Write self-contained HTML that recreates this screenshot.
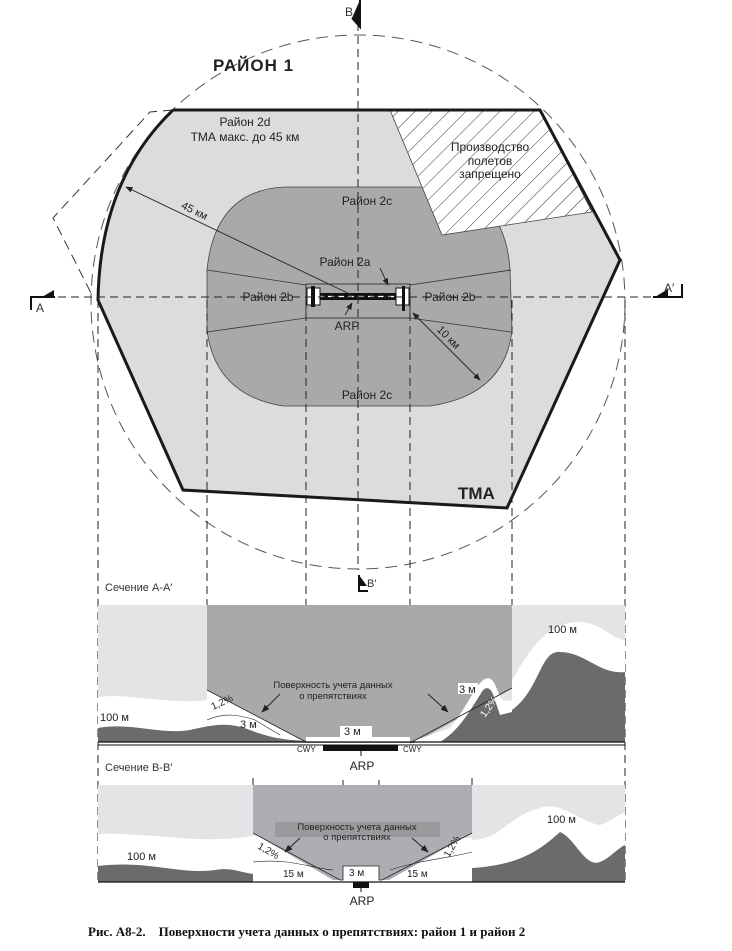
<!DOCTYPE html>
<html><head><meta charset="utf-8"><style>
body{margin:0;background:#fff;}
svg{display:block;font-family:"Liberation Sans","Noto Sans CJK SC",sans-serif;}
</style></head><body>
<svg width="732" height="951" viewBox="0 0 732 951" xmlns="http://www.w3.org/2000/svg">
<defs>
<pattern id="h" patternUnits="userSpaceOnUse" width="12" height="12" patternTransform="rotate(45)">
<rect width="12" height="12" fill="#fff"/><line x1="0" y1="0" x2="0" y2="12" stroke="#333" stroke-width="1"/>
</pattern>
<clipPath id="tma"><path d="M173,110 L540,110 L620,260 L507,508 L183,490 L98,300 Q100,180 173,110 Z"/></clipPath>
<marker id="ar" viewBox="0 0 10 10" refX="9" refY="5" markerWidth="8" markerHeight="8" orient="auto-start-reverse"><path d="M0,1 L10,5 L0,9 Z" fill="#222"/></marker>
</defs>

<circle cx="358" cy="302" r="267" fill="none" stroke="#555" stroke-width="1" stroke-dasharray="12,7"/>
<path d="M173,110 L150,112 L53,218 L93,297" fill="none" stroke="#333" stroke-dasharray="10,6"/>

<path d="M173,110 L540,110 L620,260 L507,508 L183,490 L98,300 Q100,180 173,110 Z" fill="#dcdcdc"/>
<g clip-path="url(#tma)">
<path d="M285,187 L430,187 Q505,190 510,270 L512,330 Q505,395 430,406 L283,406 Q215,395 207,330 L207,270 Q215,190 285,187 Z" fill="#a9a9a9" stroke="#444" stroke-width="0.8"/>
<polygon points="390,110 540,110 592,212 442,235" fill="url(#h)" stroke="#444" stroke-width="0.8"/>
</g>
<path d="M173,110 L540,110 L620,260 L507,508 L183,490 L98,300 Q100,180 173,110" fill="none" stroke="#1a1a1a" stroke-width="3"/>
<line x1="183" y1="490" x2="507" y2="508" stroke="#1a1a1a" stroke-width="2"/>

<g stroke="#333" stroke-width="0.8">
<line x1="306" y1="285" x2="207" y2="270"/><line x1="306" y1="318" x2="207" y2="332"/>
<line x1="410" y1="285" x2="511" y2="270"/><line x1="410" y1="318" x2="511" y2="332"/>
</g>
<rect x="306" y="284" width="104" height="34" fill="none" stroke="#222" stroke-width="0.8"/>
<rect x="312" y="293" width="90" height="7" fill="#111"/>
<line x1="318" y1="296.5" x2="396" y2="296.5" stroke="#fff" stroke-width="1.2" stroke-dasharray="6,4"/>
<rect x="307" y="288" width="13" height="17" fill="#fff" stroke="#111"/>
<rect x="311" y="286" width="4" height="21" fill="#111"/>
<rect x="396" y="288" width="13" height="17" fill="#fff" stroke="#111"/>
<rect x="402" y="286" width="3" height="25" fill="#111"/>

<line x1="358" y1="298" x2="126" y2="187" stroke="#222" stroke-width="0.9" marker-end="url(#ar)"/>
<line x1="413" y1="313" x2="480" y2="380" stroke="#222" stroke-width="0.9" marker-start="url(#ar)" marker-end="url(#ar)"/>
<line x1="380" y1="268" x2="388" y2="285" stroke="#222" stroke-width="0.9" marker-end="url(#ar)"/>
<line x1="345" y1="315" x2="352" y2="303" stroke="#222" stroke-width="0.9" marker-end="url(#ar)"/>

<g stroke="#222" stroke-width="1" stroke-dasharray="8,5" fill="none">
<line x1="98" y1="300" x2="98" y2="880"/>
<line x1="207" y1="300" x2="207" y2="742"/>
<line x1="306" y1="300" x2="306" y2="742"/>
<line x1="358" y1="10" x2="358" y2="570"/>
<line x1="410" y1="300" x2="410" y2="742"/>
<line x1="512" y1="300" x2="512" y2="742"/>
<line x1="625" y1="300" x2="625" y2="880"/>
<line x1="45" y1="297" x2="662" y2="297"/>
<line x1="253" y1="778" x2="253" y2="880"/><line x1="472" y1="778" x2="472" y2="880"/>
<line x1="343" y1="780" x2="343" y2="866"/><line x1="379" y1="780" x2="379" y2="866"/>
</g>

<path d="M360,0 L360,27 L352,18" fill="#111" stroke="#111" stroke-width="2"/>
<text x="345" y="16" font-size="12" fill="#333">B</text>
<path d="M31,310 L31,297 L55,297 L44,297" fill="none" stroke="#111" stroke-width="2"/><polygon points="42,297 54,297 54,290" fill="#111"/>
<text x="36" y="312" font-size="12" fill="#333">A</text>
<path d="M682,284 L682,297 L653,297" fill="none" stroke="#111" stroke-width="2"/><polygon points="655,297 668,297 668,289" fill="#111"/>
<text x="664" y="292" font-size="12" fill="#333">A′</text>
<path d="M359,575 L359,591 L368,591" fill="none" stroke="#111" stroke-width="2"/><polygon points="359,575 359,586 367,586" fill="#111"/>
<text x="367" y="587" font-size="11" fill="#333">B′</text>

<text x="213" y="71" font-size="17" font-weight="bold" fill="#222" letter-spacing="1">РАЙОН 1</text>
<g font-size="12" fill="#222" text-anchor="middle">
<text x="245" y="126">Район 2d</text>
<text x="245" y="141">ТМА макс. до 45 км</text>
<text x="490" y="151">Производство</text>
<text x="490" y="165">полетов</text>
<text x="490" y="178">запрещено</text>
<text x="367" y="205">Район 2с</text>
<text x="345" y="266">Район 2а</text>
<text x="268" y="301">Район 2b</text>
<text x="450" y="301">Район 2b</text>
<text x="347" y="330">ARP</text>
<text x="367" y="399">Район 2с</text>
<text x="193" y="214" transform="rotate(26 193 214)" font-size="11">45 км</text>
<text x="446" y="340" transform="rotate(45 446 340)" font-size="11">10 км</text>
</g>
<text x="458" y="499" font-size="17" font-weight="bold" fill="#222">ТМА</text>

<!-- Section A -->
<text x="105" y="591" font-size="11" fill="#333">Сечение А-А′</text>
<rect x="98" y="605" width="527" height="137" fill="#e4e4e6"/>
<path d="M207,605 L512,605 L512,688 L415,743 L306,743 L207,690 Z" fill="#a9a9a9"/>
<path d="M98,697 C130,693 170,705 207,700 L207,690 L306,742 L98,742 Z" fill="#fff"/>
<path d="M98,728 C130,722 160,735 190,730 C215,724 230,722 250,730 C270,738 285,740 306,741 L306,742 L98,742 Z" fill="#6b6b6b"/>
<path d="M207,690 L306,742" stroke="#222" stroke-width="0.8"/>
<path d="M207,720 C225,712 240,715 255,720 L280,735" fill="none" stroke="#222" stroke-width="0.6"/>
<rect x="306" y="737" width="104" height="5" fill="#fff"/>
<path d="M410,742 L450,728 C470,705 480,670 492,680 C500,690 498,705 512,700 L512,742 Z" fill="#fff"/>
<path d="M512,680 C530,650 545,625 575,622 C600,620 612,640 625,640 L625,742 L512,742 Z" fill="#fff"/>
<path d="M512,710 C540,690 540,650 560,652 C585,652 600,675 625,672 L625,742 L512,742 Z" fill="#6b6b6b"/>
<path d="M440,742 C460,730 470,710 480,695 C486,683 492,688 495,700 L500,715 L512,712 L512,742 Z" fill="#6b6b6b"/>
<path d="M410,743 L512,688" stroke="#222" stroke-width="0.8"/>
<line x1="98" y1="742" x2="625" y2="742" stroke="#111" stroke-width="1.2"/>
<line x1="98" y1="745" x2="625" y2="745" stroke="#111" stroke-width="1"/>
<rect x="323" y="745" width="75" height="6" fill="#111"/>
<line x1="361" y1="751" x2="361" y2="756" stroke="#111"/>
<text x="362" y="770" font-size="12" text-anchor="middle" fill="#222">ARP</text>
<text x="297" y="752" font-size="8" fill="#222">CWY</text>
<text x="403" y="752" font-size="8" fill="#222">CWY</text>
<text x="100" y="721" font-size="11" fill="#222">100 м</text>
<text x="548" y="633" font-size="11" fill="#222">100 м</text>
<text x="240" y="728" font-size="11" fill="#222">3 м</text>
<rect x="340" y="726" width="32" height="11" fill="#fff"/><text x="344" y="735" font-size="11" fill="#222">3 м</text>
<rect x="458" y="683" width="20" height="11" fill="#fff"/><text x="459" y="693" font-size="11" fill="#222">3 м</text>
<text x="213" y="710" font-size="10" fill="#222" transform="rotate(-25 213 710)">1,2%</text>
<text x="485" y="718" font-size="10" fill="#fff" transform="rotate(-55 485 718)">1,2%</text>
<text x="333" y="688" font-size="9.5" text-anchor="middle" fill="#222">Поверхность учета данных</text>
<text x="333" y="699" font-size="9.5" text-anchor="middle" fill="#222">о препятствиях</text>
<line x1="280" y1="694" x2="262" y2="712" stroke="#222" marker-end="url(#ar)"/>
<line x1="428" y1="694" x2="448" y2="712" stroke="#222" marker-end="url(#ar)"/>

<!-- Section B -->
<text x="105" y="771" font-size="11" fill="#333">Сечение В-В′</text>
<rect x="98" y="785" width="527" height="97" fill="#e4e4e6"/>
<path d="M98,834 C150,832 200,845 253,836 L253,882 L98,882 Z" fill="#fff"/>
<path d="M472,840 C500,840 510,815 540,808 C560,800 580,822 600,825 C610,822 618,815 625,812 L625,882 L472,882 Z" fill="#fff"/>
<path d="M98,866 C150,860 180,875 215,870 C230,867 240,872 253,874 L253,882 L98,882 Z" fill="#6b6b6b"/>
<path d="M472,868 C520,865 540,850 560,832 C575,838 585,868 600,862 C610,858 618,848 625,845 L625,882 L472,882 Z" fill="#6b6b6b"/>
<path d="M253,836 L253,882 L472,882 L472,838 Z" fill="#fff"/>
<path d="M253,785 L472,785 L472,833 L389,880 L379,880 L379,870 L343,870 L343,880 L333,880 L253,833 Z" fill="#acaeb4"/>
<rect x="343" y="866" width="36" height="14" fill="#fff"/>
<path d="M253,833 L340,880 L343,880 L343,866 L379,866 L379,880 L382,880 L472,833" fill="none" stroke="#222" stroke-width="0.8"/>
<path d="M253,862 C290,858 310,868 333,870" fill="none" stroke="#222" stroke-width="0.6"/>
<path d="M390,870 C420,860 450,858 472,852" fill="none" stroke="#222" stroke-width="0.6"/>
<rect x="275" y="822" width="165" height="15" fill="#9a9a9c"/>
<text x="357" y="830" font-size="9.5" text-anchor="middle" fill="#222">Поверхность учета данных</text>
<text x="357" y="840" font-size="9.5" text-anchor="middle" fill="#222">о препятствиях</text>
<line x1="300" y1="838" x2="285" y2="852" stroke="#222" marker-end="url(#ar)"/>
<line x1="412" y1="838" x2="428" y2="852" stroke="#222" marker-end="url(#ar)"/>
<line x1="98" y1="882" x2="625" y2="882" stroke="#111" stroke-width="1.2"/>
<rect x="353" y="882" width="16" height="6" fill="#111"/>
<line x1="361" y1="888" x2="361" y2="892" stroke="#111"/>
<text x="362" y="905" font-size="12" text-anchor="middle" fill="#222">ARP</text>
<text x="127" y="860" font-size="11" fill="#222">100 м</text>
<text x="547" y="823" font-size="11" fill="#222">100 м</text>
<text x="283" y="877" font-size="10" fill="#222">15 м</text>
<text x="407" y="877" font-size="10" fill="#222">15 м</text>
<text x="349" y="876" font-size="10" fill="#222">3 м</text>
<text x="257" y="848" font-size="10" fill="#222" transform="rotate(30 257 848)">1,2%</text>
<text x="449" y="858" font-size="10" fill="#222" transform="rotate(-60 449 858)">1,2%</text>

<text x="88" y="936" font-family="Liberation Serif, serif" font-size="13" font-weight="bold" fill="#111" xml:space="preserve">Рис. А8-2.    Поверхности учета данных о препятствиях: район 1 и район 2</text>
</svg>
</body></html>
